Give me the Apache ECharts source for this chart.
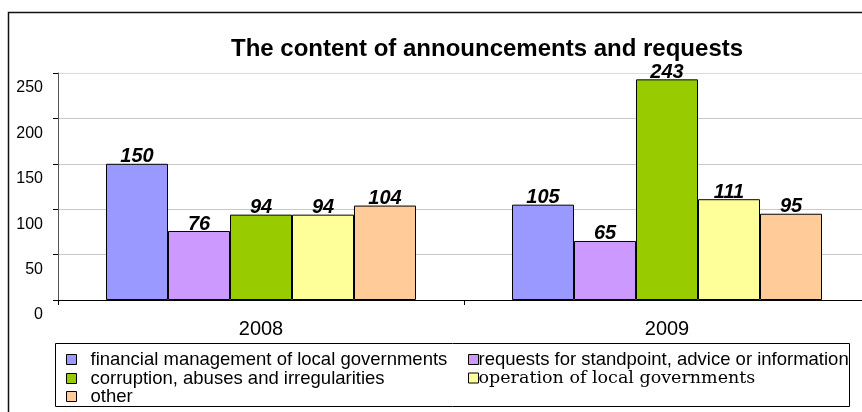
<!DOCTYPE html>
<html>
<head>
<meta charset="utf-8">
<script src="https://cdn.jsdelivr.net/npm/echarts@6/dist/echarts.min.js"></script>
<style>
  html, body { margin: 0; padding: 0; background: #fff; overflow: hidden; }
  /* the plot area runs a little past the right edge of the window */
  #chart { width: 870px; height: 412px; }
</style>
</head>
<body>
<div id="chart"></div>
<script>
// Announcements and requests by topic, per year
var years = ['2008', '2009'];
var seriesNames = [
  'financial management of local governments',
  'requests for standpoint, advice or information',
  'corruption, abuses and irregularities',
  'operation of local governments',
  'other'
];
var financialMgmt = [150, 105];
var standpointRequests = [76, 65];
var corruption = [94, 243];
var operation = [94, 111];
var other = [104, 95];
var yTicks = [0, 50, 100, 150, 200, 250];

var seriesValues = [financialMgmt, standpointRequests, corruption, operation, other];
var colors = ['#9999FF', '#CC99FF', '#99CC00', '#FFFF99', '#FFCC99'];

var sans = '"Liberation Sans", Arial, sans-serif';
var serif = '"DejaVu Serif", "Liberation Serif", serif';

var chart = echarts.init(document.getElementById('chart'), null, { renderer: 'canvas' });

var series = seriesNames.map(function (name, i) {
  return {
    name: name,
    type: 'bar',
    data: seriesValues[i],
    barWidth: 62,
    barGap: '0%',
    itemStyle: { color: colors[i], borderColor: '#000', borderWidth: 1 },
    label: {
      show: true,
      position: 'top',
      distance: -3,
      color: '#000',
      fontFamily: sans,
      fontSize: 20,
      fontWeight: 'bold',
      fontStyle: 'italic'
    }
  };
});

// legend entries laid out in two columns, plus a third row for "other"
function legendItem(idx, left, top, textStyle) {
  return {
    data: [seriesNames[idx]],
    left: left,
    top: top,
    padding: 0,
    orient: 'horizontal',
    icon: 'rect',
    itemWidth: 10,
    itemHeight: 10,
    selectedMode: false,
    itemStyle: { borderColor: '#000', borderWidth: 1 },
    textStyle: textStyle
  };
}

var legendText = { fontFamily: sans, fontSize: 18.5, color: '#000' };

var option = {
  animation: false,
  color: colors,
  title: {
    text: 'The content of announcements and requests',
    left: 231,
    top: 37,
    padding: 0,
    textStyle: { fontFamily: sans, fontSize: 24, fontWeight: 'bold', color: '#000' }
  },
  legend: [
    legendItem(0, 66, 350, Object.assign({}, legendText, { padding: [0, 0, 0, 9] })),
    legendItem(1, 468, 350, Object.assign({}, legendText, { padding: [0, 0, 0, -5] })),
    legendItem(2, 66, 369, Object.assign({}, legendText, { padding: [0, 0, 0, 9] })),
    legendItem(3, 468, 369, { fontFamily: serif, fontSize: 17.5, color: '#000', padding: [0, 0, 0, -5] }),
    legendItem(4, 66, 387, Object.assign({}, legendText, { padding: [18, 0, 0, 9] }))
  ],
  grid: { left: 58, top: 73, width: 812, height: 227, containLabel: false },
  xAxis: {
    type: 'category',
    data: years,
    boundaryGap: true,
    axisLine: { show: true, lineStyle: { color: '#000', width: 1 } },
    axisTick: { show: true, length: 5, lineStyle: { color: '#000' } },
    axisLabel: { margin: 19, fontFamily: sans, fontSize: 20, color: '#000' },
    splitLine: { show: false }
  },
  yAxis: {
    type: 'value',
    min: yTicks[0],
    max: yTicks[yTicks.length - 1],
    interval: 50,
    axisLine: { show: true, lineStyle: { color: '#555', width: 1 } },
    axisTick: { show: true, length: 5, lineStyle: { color: '#000' } },
    axisLabel: {
      margin: 15,
      fontFamily: sans,
      fontSize: 16,
      color: '#000',
      verticalAlign: 'top',
      padding: [7, 0, 0, 0]
    },
    splitLine: {
      show: true,
      lineStyle: { color: ['#c8c8c8', '#c8c8c8', '#c8c8c8', '#c8c8c8', '#c8c8c8', '#c6e6e6'], width: 1 }
    }
  },
  graphic: [
    {
      type: 'rect',
      shape: { x: 8.5, y: 12.5, width: 1000, height: 1000 },
      style: { fill: 'none', stroke: '#111', lineWidth: 1.5 },
      silent: true
    },
    {
      type: 'rect',
      shape: { x: 55.5, y: 343.5, width: 794, height: 63 },
      style: { fill: 'none', stroke: '#000', lineWidth: 1 },
      silent: true
    }
  ],
  series: series
};

chart.setOption(option);
</script>
</body>
</html>
